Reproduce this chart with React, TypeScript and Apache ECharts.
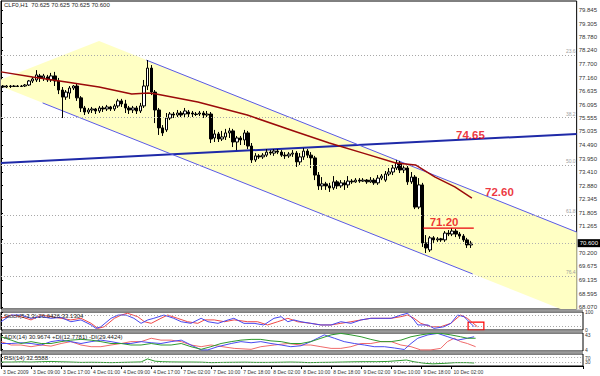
import { useEffect, useRef } from "react";
import * as echarts from "echarts";

// ---------- data ----------
const SYMBOL_TEXT = "CLF0,H1  70.625 70.625 70.625 70.600";
const STOCH_TITLE = "Stoch(5,3,3) 26.6426 33.1304";
const ADX_TITLE = "ADX(14) 30.9674 +DI(12.7781) -DI(29.4424)";
const RSI_TITLE = "RSI(14) 32.5588";

const TIME_LABELS = [
  "3 Dec 2009", "3 Dec 09:00", "3 Dec 17:00", "4 Dec 01:00", "4 Dec 09:00", "4 Dec 17:00",
  "7 Dec 02:00", "7 Dec 10:00", "7 Dec 18:00", "8 Dec 02:00", "8 Dec 10:00", "8 Dec 18:00",
  "9 Dec 02:00", "9 Dec 10:00", "9 Dec 18:00", "10 Dec 02:00",
];
const BARS_PER_LABEL = 8;
const SLOT_COUNT = 155;

const PRICE_MIN = 67.99;
const PRICE_MAX = 80.2;
const PRICE_TICKS = [
  68.07, 68.595, 69.135, 69.675, 70.2, 70.74, 71.265, 71.805, 72.345, 72.88, 73.41, 73.95,
  74.49, 75.035, 75.555, 76.095, 76.635, 77.16, 77.7, 78.24, 78.78, 79.305, 79.845,
];
// 70.740 sits under the last-price box in the reference, so only its tick is drawn
const PRICE_LABELS = PRICE_TICKS.filter((v) => v !== 70.74);

// [open, close, low, high]
const CANDLES = [
  [76.83, 76.79, 76.75, 76.87], [76.79, 76.83, 76.75, 76.87], [76.83, 76.81, 76.75, 76.87],
  [76.81, 76.83, 76.79, 76.87], [76.83, 76.81, 76.79, 76.87], [76.81, 76.83, 76.79, 76.87],
  [76.83, 76.87, 76.79, 76.91], [76.87, 77.03, 76.83, 77.07], [77.03, 77.11, 76.95, 77.19],
  [77.07, 77.27, 76.99, 77.46], [77.23, 77.15, 76.99, 77.31], [77.15, 77.23, 77.03, 77.31],
  [77.19, 77.07, 76.99, 77.27], [77.07, 77.23, 76.99, 77.35], [77.23, 77.03, 76.83, 77.39],
  [77.03, 76.67, 76.51, 77.15], [76.67, 76.39, 75.56, 76.79], [76.39, 76.59, 76.28, 76.67],
  [76.55, 76.75, 76.32, 76.83], [76.75, 76.83, 76.67, 76.87], [76.83, 76.36, 76.24, 76.91],
  [76.36, 75.96, 75.8, 76.43], [75.96, 75.8, 75.68, 76.04], [75.8, 75.88, 75.72, 75.96],
  [75.88, 75.92, 75.76, 76.0], [75.92, 75.84, 75.72, 75.96], [75.84, 75.96, 75.76, 76.04],
  [75.96, 75.92, 75.8, 76.04], [75.92, 76.0, 75.84, 76.08], [76.0, 75.92, 75.84, 76.04],
  [75.92, 76.04, 75.84, 76.12], [76.04, 76.24, 75.96, 76.32], [76.24, 76.12, 76.0, 76.32],
  [76.12, 75.96, 75.76, 76.28], [75.96, 75.88, 75.72, 76.04], [75.88, 75.96, 75.76, 76.04],
  [75.96, 75.84, 75.72, 76.04], [75.84, 76.04, 75.76, 76.16], [76.04, 76.83, 75.96, 77.07],
  [76.83, 77.54, 76.67, 77.86], [77.54, 76.59, 76.47, 77.66], [76.59, 75.88, 75.36, 76.67],
  [75.88, 75.17, 74.89, 75.96], [75.17, 74.97, 74.85, 75.28], [75.09, 75.56, 75.01, 75.76],
  [75.56, 75.72, 75.48, 75.8], [75.72, 75.68, 75.56, 75.8], [75.68, 75.76, 75.6, 75.88],
  [75.76, 75.68, 75.6, 75.84], [75.72, 75.84, 75.56, 75.96], [75.8, 75.72, 75.6, 75.88],
  [75.76, 75.72, 75.6, 75.84], [75.72, 75.7, 75.64, 75.8], [75.72, 75.76, 75.64, 75.84],
  [75.76, 75.68, 75.56, 75.84], [75.68, 75.72, 75.6, 75.84], [75.72, 74.73, 74.57, 75.8],
  [74.77, 74.93, 74.61, 75.09], [74.93, 74.73, 74.61, 75.01], [74.73, 74.81, 74.65, 75.05],
  [74.81, 74.97, 74.69, 75.13], [74.97, 75.05, 74.77, 75.17], [75.05, 74.61, 74.41, 75.13],
  [74.61, 74.77, 74.29, 74.85], [74.77, 74.69, 74.49, 74.85], [74.69, 74.97, 74.49, 75.09],
  [74.97, 74.45, 74.33, 75.05], [74.45, 73.9, 73.78, 74.57], [73.9, 74.06, 73.82, 74.17],
  [74.06, 74.02, 73.94, 74.13], [74.02, 74.09, 73.94, 74.17], [74.09, 74.21, 74.02, 74.33],
  [74.21, 74.17, 74.09, 74.29], [74.17, 74.25, 74.06, 74.33], [74.25, 74.21, 74.13, 74.33],
  [74.21, 74.09, 74.02, 74.29], [74.09, 74.06, 73.94, 74.21], [74.06, 74.13, 73.98, 74.21],
  [74.13, 74.17, 74.02, 74.29], [74.17, 73.82, 73.62, 74.25], [73.82, 74.02, 73.7, 74.17],
  [74.02, 74.25, 73.9, 74.37], [74.25, 74.09, 73.98, 74.33], [74.09, 73.98, 73.58, 74.21],
  [73.98, 73.3, 73.1, 74.06], [73.3, 72.87, 72.71, 73.42], [72.87, 72.95, 72.71, 73.22],
  [72.95, 72.87, 72.71, 73.03], [72.87, 72.79, 72.63, 72.99], [72.79, 73.03, 72.71, 73.26],
  [73.03, 72.87, 72.75, 73.1], [72.87, 72.99, 72.79, 73.1], [72.99, 72.91, 72.71, 73.1],
  [72.91, 73.06, 72.79, 73.26], [73.06, 73.03, 72.95, 73.14], [73.03, 73.1, 72.99, 73.18],
  [73.1, 73.06, 72.99, 73.18], [73.06, 73.1, 73.03, 73.18], [73.1, 73.03, 72.95, 73.14],
  [73.03, 73.1, 72.99, 73.22], [73.1, 72.99, 72.91, 73.18], [72.99, 73.18, 72.91, 73.3],
  [73.18, 73.26, 73.1, 73.34], [73.1, 73.34, 73.03, 73.46], [73.34, 73.42, 73.26, 73.58],
  [73.42, 73.58, 73.3, 73.7], [73.58, 73.78, 73.5, 73.9], [73.78, 73.5, 73.38, 73.86],
  [73.5, 73.58, 73.38, 73.7], [73.58, 73.03, 72.91, 73.66], [73.03, 73.22, 72.95, 73.42],
  [73.22, 72.03, 71.95, 73.3], [72.03, 72.91, 71.95, 73.18], [72.91, 70.61, 70.45, 72.99],
  [70.61, 70.41, 70.21, 70.92], [70.33, 70.81, 70.25, 70.88], [70.81, 70.73, 70.61, 70.88],
  [70.73, 70.77, 70.65, 70.84], [70.77, 70.73, 70.65, 70.81], [70.73, 71.0, 70.65, 71.08],
  [71.0, 70.96, 70.88, 71.12], [70.96, 71.08, 70.88, 71.2], [71.08, 70.96, 70.84, 71.16],
  [70.96, 70.88, 70.77, 71.04], [70.88, 70.73, 70.65, 70.96], [70.73, 70.53, 70.41, 70.81],
  [70.53, 70.6, 70.41, 70.69],
];

// [bar position, price]
const MA_LINE = [
  [0, 77.39], [8.5, 77.19], [17.6, 76.99], [26.4, 76.79], [35.2, 76.51], [39.7, 76.55],
  [41.8, 76.51], [53.0, 76.2], [66.3, 75.68], [79.6, 75.01], [88.4, 74.57], [97.5, 74.17],
  [106.3, 73.78], [111.6, 73.7], [116.9, 73.22], [122.2, 72.83], [126.8, 72.39],
];
const TREND_LINE = [[0, 73.78], [155, 74.93]];
const CHANNEL_UPPER = [[39.1, 77.86], [155, 71.04]];
const CHANNEL_LOWER = [[11.2, 76.16], [127.0, 69.38]];
const LEVEL_LINE = [[113.7, 71.2], [127.3, 71.2]];
const YELLOW_ZONE = [
  [0, 77.09], [26.4, 78.61], [155, 71.04], [155, 67.99], [150.7, 67.99], [0, 76.82],
];
const FIB_LABELS = ["23.6", "38.2", "50.0", "61.8", "76.4"];
const FIB_PRICES = [78.06, 75.6, 73.7, 71.72, 69.3];
const LAST_PRICE = 70.6;
const ANNOTATION_TEXTS = ["74.65", "72.60", "71.20"];
const ANNOTATION_POINTS = [[126.4, 74.89], [134.2, 72.61], [119.3, 71.42]];

const STOCH_MAIN = [
  [0, 46], [2.7, 83], [5.3, 83], [8, 65], [10.7, 74], [13.3, 65], [16, 70], [18.6, 46],
  [21.3, 56], [24, 28], [25.3, 9], [26.6, 18], [29.3, 65], [31.2, 83], [33.3, 83], [35.4, 65],
  [37.3, 37], [39.1, 56], [40.7, 65], [43.4, 83], [46, 65], [48, 46], [50.6, 37], [53.3, 65],
  [55.1, 46], [57.8, 37], [60.5, 56], [62, 65], [64.7, 37], [67.4, 37], [70, 28], [72.7, 65],
  [74.6, 74], [76.4, 46], [78, 56], [79.9, 46], [82.5, 37], [85.2, 28], [87.9, 28], [90.5, 46],
  [93.2, 37], [95.9, 56], [98.5, 65], [101.2, 65], [103.9, 65], [106.5, 83], [108.3, 93],
  [110, 56], [111, 28], [113.7, 28], [115.3, 9], [118, 18], [119.8, 37], [121.6, 83],
  [123.3, 74], [125.1, 37], [126, 18],
];
const STOCH_SIGNAL = [
  [0, 65], [2.7, 83], [5.3, 74], [8, 56], [10.7, 83], [13.3, 74], [16, 65], [18.6, 56],
  [21.3, 65], [24, 37], [25.8, 9], [27.5, 18], [30.2, 65], [32, 83], [33.7, 93], [36.4, 74],
  [38.2, 46], [40, 37], [42.6, 65], [44.4, 83], [47, 65], [49.7, 46], [52.4, 37], [54.2, 56],
  [56.8, 56], [59.5, 46], [62.1, 56], [65.7, 46], [68.3, 46], [71, 28], [73.7, 46], [76.4, 65],
  [79, 46], [82.5, 37], [85.2, 28], [87.9, 28], [90.5, 37], [93.2, 46], [95.9, 56], [98.5, 65],
  [101.2, 65], [103.9, 65], [106.5, 74], [108.3, 83], [110, 65], [111.8, 37], [114.5, 18],
  [117.1, 18], [119.8, 37], [122.4, 83], [124.2, 65], [126.9, 18],
];
const STOCH_BOX = [[124.4, 44], [128.6, 0]];

const ADX_MAIN = [
  [0, 38], [2.7, 29], [5.3, 20], [8, 25], [10.7, 20], [13.3, 20], [16, 25], [18.6, 29],
  [21.3, 31], [24, 29], [26.6, 25], [29.3, 20], [32, 20], [34.6, 16], [37.3, 16], [40, 20],
  [42.6, 16], [45.3, 16], [48, 20], [50.6, 11.5], [53.3, 4.5], [55.9, 11.5], [58.6, 20],
  [61.3, 25], [63.9, 29], [66.6, 31], [69.2, 31], [71.9, 27], [74.6, 25], [77.2, 20],
  [79.9, 20], [82.5, 25], [85.2, 34], [87.9, 43], [90.5, 47], [93.2, 43], [95.9, 38],
  [98.5, 31], [101.2, 25], [103.9, 25], [106.5, 29], [109.2, 38], [111.8, 43], [114.5, 47],
  [117.1, 47], [119.8, 43], [122.4, 38], [124.2, 34], [126.4, 34],
];
const ADX_PLUS = [
  [0, 20], [2.7, 20], [5.3, 22], [8, 20], [10.7, 16], [13.3, 25], [16, 29], [18.6, 25],
  [21.3, 20], [24, 25], [26.6, 29], [29.3, 25], [32, 20], [34.6, 20], [37.3, 25], [40, 22],
  [42.6, 20], [45.3, 25], [48, 29], [50.6, 16], [53.3, 3], [55.1, 3], [57.7, 11.5], [61.3, 20],
  [63.9, 25], [66.6, 22], [69.2, 25], [71.9, 20], [74.6, 16], [77.2, 11.5], [79.9, 14],
  [82.5, 25], [84.3, 34], [86.1, 43], [88.8, 34], [91.4, 25], [94.1, 20], [96.8, 16],
  [99.4, 11.5], [102.1, 11.5], [104.8, 8], [107.4, 4], [109.2, 20], [111, 34], [113.7, 43],
  [116.3, 47], [119, 38], [121.6, 29], [124.2, 34], [126, 38],
];
const ADX_MINUS = [
  [0, 25], [2.7, 16], [5.3, 16], [8, 11.5], [10.7, 16], [13.3, 13], [16, 20], [18.6, 25],
  [21.3, 16], [24, 11.5], [26.6, 11.5], [29.3, 16], [32, 20], [34.6, 25], [37.3, 25], [40, 34],
  [42.6, 29], [45.3, 29], [48, 25], [50.6, 16], [53.3, 11.5], [55.9, 16], [62.1, 7],
  [66.6, 4.5], [69.2, 11.5], [72.8, 16], [76.4, 20], [79.9, 16], [82.5, 16], [85.2, 11.5],
  [87.9, 7], [90.5, 7], [93.2, 11.5], [95.9, 20], [98.5, 20], [101.2, 25], [103.9, 25],
  [106.5, 16], [109.2, 11.5], [111.8, 3], [114.5, 3], [117.1, 7], [118.9, 25], [120.7, 34],
  [122.4, 25], [124.2, 20], [126.4, 11.5],
];
const RSI_LINE = [
  [0, 33], [2.7, 33], [5.3, 35], [8, 33], [10.7, 36], [13.3, 38], [16, 35], [18.6, 33],
  [21.3, 30], [24, 31], [26.6, 30], [29.3, 28], [32, 30], [34.6, 32], [37.3, 34], [39, 59],
  [41, 40], [43, 36], [45.3, 34], [48, 33], [50.6, 33], [53.3, 32], [56, 28], [59, 30],
  [62, 31], [65, 32], [68, 30], [71, 30], [74, 31], [77, 33], [80, 31], [82, 28], [85, 30],
  [88, 31], [91, 33], [94, 35], [97, 36], [100, 36], [103, 38], [106, 45], [108, 50],
  [110, 35], [113, 22], [115, 18], [118, 22], [121, 28], [124, 28], [126, 25],
];

// ---------- chart ----------
const FONT = "Liberation Sans";
const TXT = "#333";

function buildOption(): any {
  const categories = Array.from({ length: SLOT_COUNT }, (_, i) => String(i));
  const isLabelSlot = (i: number) =>
    i % BARS_PER_LABEL === 0 && i / BARS_PER_LABEL < TIME_LABELS.length;

  const grids = [
    { left: 1, width: 582, top: 1, height: 308 },
    { left: 1, width: 582, top: 312, height: 18 },
    { left: 1, width: 582, top: 333, height: 18 },
    { left: 1, width: 582, top: 354, height: 12 },
  ].map((g) => ({ ...g, show: true, borderColor: "#000", borderWidth: 1, backgroundColor: "transparent" }));

  const hiddenValueX = (gridIndex: number) => ({
    type: "value", gridIndex, min: 0, max: SLOT_COUNT, show: false,
  });

  const yBase = (gridIndex: number, min: number, max: number, ticks: number[], labels: number[], fmt: (v: number) => string) => ({
    type: "value", gridIndex, position: "right", min, max,
    axisLine: { show: true, lineStyle: { color: "#000", width: 1 } },
    axisTick: { show: true, length: 2, customValues: ticks, lineStyle: { color: "#000" } },
    axisLabel: {
      customValues: labels, fontSize: gridIndex === 0 ? 6 : 5, color: TXT, fontFamily: FONT,
      margin: 2, formatter: fmt, showMinLabel: true, showMaxLabel: true,
    },
    splitLine: { show: false },
  });

  const thin = (data: number[][], color: string, xAxisIndex: number, yAxisIndex: number, extra: any = {}) => ({
    type: "line", xAxisIndex, yAxisIndex, data, symbol: "none", showSymbol: false, silent: true,
    lineStyle: { color, width: 1 }, z: 3, ...extra,
  });

  return {
    animation: false,
    backgroundColor: "#fff",
    grid: grids,
    xAxis: [
      { type: "category", gridIndex: 0, data: categories, boundaryGap: true, show: false },
      hiddenValueX(0),
      hiddenValueX(1),
      hiddenValueX(2),
      hiddenValueX(3),
      {
        type: "category", gridIndex: 3, data: categories, boundaryGap: true, position: "bottom",
        axisLine: { show: true, lineStyle: { color: "#000" } },
        axisTick: { show: true, interval: (i: number) => isLabelSlot(i), length: 3, lineStyle: { color: "#000" } },
        axisLabel: {
          interval: (i: number) => isLabelSlot(i),
          formatter: (_v: string, i: number) => (isLabelSlot(i) ? TIME_LABELS[i / BARS_PER_LABEL] : ""),
          fontSize: 5, color: TXT, fontFamily: FONT, align: "left", margin: 3,
          showMinLabel: true, showMaxLabel: true, hideOverlap: false,
        },
        splitLine: { show: false },
      },
    ],
    yAxis: [
      yBase(0, PRICE_MIN, PRICE_MAX, PRICE_TICKS, PRICE_LABELS, (v) => v.toFixed(3)),
      yBase(1, 0, 100, [0, 20, 80, 100], [0, 20, 80, 100], (v) => String(v)),
      yBase(2, 0, 48, [4, 43], [4, 43], (v) => String(v)),
      yBase(3, 0, 100, [30, 70], [30, 70], (v) => String(v)),
    ],
    series: [
      {
        type: "custom", xAxisIndex: 1, yAxisIndex: 0, silent: true, z: 1,
        data: [[0, PRICE_MIN]],
        renderItem: (_p: any, api: any) => ({
          type: "polygon",
          shape: { points: YELLOW_ZONE.map((pt) => api.coord(pt)) },
          style: { fill: "#FFFFC4", stroke: "none" },
        }),
      },
      thin(TREND_LINE, "#1f2aa8", 1, 0, {
        lineStyle: { color: "#1f2aa8", width: 2 }, z: 3,
        markLine: {
          silent: true, symbol: ["none", "none"],
          data: [
            ...FIB_PRICES.map((p, i) => ({
              yAxis: p,
              lineStyle: { color: "#a8a8a8", type: [1, 2], width: 1 },
              label: { show: true, formatter: FIB_LABELS[i], position: "insideEndTop", distance: 1, fontSize: 5, color: "#a0a0a0", fontFamily: FONT },
            })),
            {
              yAxis: LAST_PRICE,
              lineStyle: { color: "#b0b0b0", type: [1, 2], width: 1 },
              label: {
                show: true, formatter: LAST_PRICE.toFixed(3), position: "end", distance: 1,
                fontSize: 6, color: "#fff", backgroundColor: "#000", padding: [1, 2], fontFamily: FONT,
              },
            },
          ],
        },
      }),
      thin(CHANNEL_UPPER, "#5a5ae6", 1, 0),
      thin(CHANNEL_LOWER, "#5a5ae6", 1, 0),
      {
        type: "candlestick", xAxisIndex: 0, yAxisIndex: 0, data: CANDLES, barWidth: 3, silent: true, z: 4,
        itemStyle: { color: "#fff", color0: "#000", borderColor: "#000", borderColor0: "#000", borderWidth: 1 },
      },
      thin(MA_LINE, "#9b0a0a", 1, 0, { lineStyle: { color: "#9b0a0a", width: 1.5 }, z: 5 }),
      thin(LEVEL_LINE, "#e8000b", 1, 0, { lineStyle: { color: "#e8000b", width: 1.2 }, z: 5 }),
      {
        type: "scatter", xAxisIndex: 1, yAxisIndex: 0, symbolSize: 1, silent: true, z: 6,
        itemStyle: { color: "rgba(0,0,0,0)" },
        data: ANNOTATION_TEXTS.map((t, i) => ({ name: t, value: ANNOTATION_POINTS[i] })),
        label: {
          show: true, position: "inside", formatter: (p: any) => p.name,
          color: "#e8000b", fontSize: 11.5, fontWeight: "bold", fontFamily: FONT,
        },
      },
      // Stochastic
      thin(STOCH_SIGNAL, "#f04848", 2, 1, {
        markLine: {
          silent: true, symbol: ["none", "none"], label: { show: false },
          lineStyle: { color: "#a8a8a8", type: [1, 2], width: 1 },
          data: [{ yAxis: 80 }, { yAxis: 20 }],
        },
      }),
      thin(STOCH_MAIN, "#4848f0", 2, 1, {
        markArea: {
          silent: true,
          itemStyle: { color: "rgba(0,0,0,0)", borderColor: "#ff0000", borderWidth: 1.2 },
          data: [[{ coord: STOCH_BOX[0] }, { coord: STOCH_BOX[1] }]],
        },
      }),
      // ADX
      thin(ADX_MINUS, "#f06a6a", 3, 2),
      thin(ADX_PLUS, "#4a4af0", 3, 2),
      thin(ADX_MAIN, "#2f9a2f", 3, 2),
      // RSI
      thin(RSI_LINE, "#2f9a2f", 4, 3, {
        markLine: {
          silent: true, symbol: ["none", "none"], label: { show: false },
          lineStyle: { color: "#a8a8a8", type: [1, 2], width: 1 },
          data: [{ yAxis: 70 }, { yAxis: 30 }],
        },
      }),
    ],
    graphic: [
      { type: "text", left: 4, top: 2, z: 10, style: { text: SYMBOL_TEXT, font: `6px "${FONT}"`, fill: "#222" } },
      { type: "text", left: 4, top: 313, z: 10, style: { text: STOCH_TITLE, font: `6px "${FONT}"`, fill: "#222" } },
      { type: "text", left: 4, top: 334, z: 10, style: { text: ADX_TITLE, font: `6px "${FONT}"`, fill: "#222" } },
      { type: "text", left: 4, top: 355, z: 10, style: { text: RSI_TITLE, font: `6px "${FONT}"`, fill: "#222" } },
      { type: "rect", z: 9, shape: { x: 1, y: 309.5, width: 582, height: 2 }, style: { fill: "#9b9b9b" } },
      { type: "rect", z: 9, shape: { x: 1, y: 330.5, width: 582, height: 2 }, style: { fill: "#9b9b9b" } },
      { type: "rect", z: 9, shape: { x: 1, y: 351.5, width: 582, height: 2 }, style: { fill: "#9b9b9b" } },
    ],
  };
}

export default function App() {
  const ref = useRef<HTMLDivElement>(null);
  useEffect(() => {
    if (!ref.current) return;
    const chart = echarts.init(ref.current, undefined, { renderer: "svg" });
    chart.setOption(buildOption());
    return () => chart.dispose();
  }, []);
  return (
    <div
      ref={ref}
      style={{ position: "fixed", left: 0, top: 0, width: 600, height: 376, background: "#fff" }}
    />
  );
}
